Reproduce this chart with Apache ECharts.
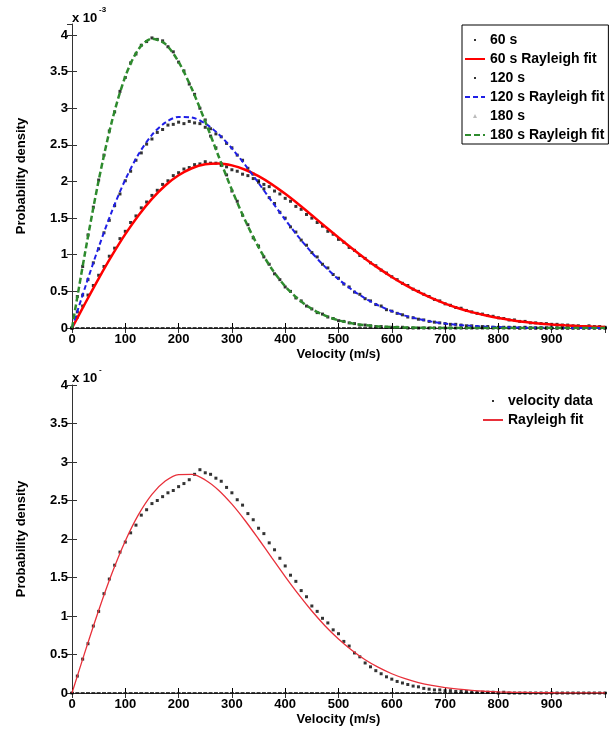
<!DOCTYPE html>
<html>
<head>
<meta charset="utf-8">
<script src="https://cdn.jsdelivr.net/npm/echarts@6/dist/echarts.min.js"></script>
<style>
html,body{margin:0;padding:0;background:#fff;}
#c{width:613px;height:731px;}
</style>
</head>
<body>
<div id="c"></div>
<script>
// Velocity grids (m/s)
const vFit = [0,25,50,75,100,125,150,175,200,225,250,275,300,325,350,375,400,425,450,475,500,525,550,575,600,625,650,675,700,725,750,775,800,825,850,875,900,925,950,975,1000];
const vData = [0,10,20,30,40,50,60,70,80,90,100,110,120,130,140,150,160,170,180,190,200,210,220,230,240,250,260,270,280,290,300,310,320,330,340,350,360,370,380,390,400,410,420,430,440,450,460,470,480,490,500,510,520,530,540,550,560,570,580,590,600,610,620,630,640,650,660,670,680,690,700,710,720,730,740,750,760,770,780,790,800,810,820,830,840,850,860,870,880,890,900,910,920,930,940,950,960,970,980,990,1000];

// Probability density values, in units of 1e-3
const fit60 = [0,0.341,0.674,0.990,1.281,1.540,1.763,1.946,2.085,2.181,2.234,2.246,2.220,2.160,2.072,1.961,1.831,1.689,1.539,1.386,1.235,1.088,0.947,0.817,0.697,0.588,0.492,0.407,0.333,0.270,0.217,0.173,0.136,0.106,0.082,0.063,0.048,0.036,0.027,0.020,0.014];
const fit120 = [0,0.563,1.102,1.596,2.025,2.374,2.636,2.804,2.882,2.874,2.791,2.646,2.452,2.225,1.979,1.727,1.478,1.243,1.027,0.834,0.666,0.523,0.404,0.307,0.230,0.169,0.123,0.087,0.061,0.042,0.029,0.019,0.013,0.008,0.005,0.003,0.002,0.001,0.001,0,0];
const fit180 = [0,1.047,2.012,2.825,3.433,3.808,3.949,3.878,3.632,3.262,2.817,2.345,1.886,1.467,1.104,0.805,0.569,0.391,0.260,0.168,0.105,0.064,0.038,0.022,0.012,0.007,0.004,0.002,0.001,0,0,0,0,0,0,0,0,0,0,0,0];
const fitB = [0,0.547,1.072,1.554,1.974,2.319,2.580,2.752,2.837,2.839,2.767,2.634,2.452,2.237,2.000,1.755,1.512,1.280,1.065,0.871,0.701,0.555,0.432,0.332,0.250,0.186,0.136,0.098,0.070,0.049,0.034,0.023,0.015,0.010,0.007,0.004,0.003,0.002,0.001,0.001,0];

const data60 = [0,0.15,0.30,0.45,0.58,0.72,0.84,0.98,1.09,1.22,
 1.32,1.44,1.53,1.64,1.72,1.81,1.88,1.96,2.01,2.08,
 2.12,2.17,2.19,2.23,2.24,2.27,2.25,2.25,2.22,2.20,
 2.16,2.14,2.10,2.08,2.04,2.01,1.96,1.93,1.87,1.83,
 1.77,1.73,1.66,1.62,1.55,1.50,1.44,1.39,1.32,1.28,
 1.21,1.17,1.10,1.06,0.99,0.95,0.89,0.85,0.79,0.75,
 0.70,0.66,0.61,0.58,0.53,0.50,0.46,0.43,0.39,0.37,
 0.33,0.31,0.28,0.27,0.24,0.22,0.20,0.19,0.17,0.16,
 0.14,0.13,0.11,0.11,0.09,0.09,0.07,0.07,0.06,0.06,
 0.05,0.05,0.04,0.04,0.03,0.03,0.02,0.03,0.02,0.02,0.01];
const data120 = [0,0.22,0.45,0.66,0.89,1.08,1.30,1.47,1.67,1.83,
 2.01,2.14,2.29,2.39,2.51,2.58,2.67,2.71,2.77,2.78,
 2.81,2.79,2.82,2.80,2.79,2.74,2.72,2.65,2.61,2.52,
 2.46,2.36,2.29,2.18,2.10,1.99,1.90,1.78,1.70,1.58,
 1.50,1.38,1.31,1.20,1.13,1.03,0.97,0.87,0.82,0.73,
 0.68,0.60,0.56,0.49,0.46,0.40,0.37,0.32,0.30,0.25,
 0.23,0.20,0.18,0.15,0.14,0.12,0.11,0.09,0.08,0.07,
 0.06,0.05,0.05,0.04,0.03,0.03,0.02,0.02,0.02,0.01,
 0.01,0.01,0.01,0.01,0,0.01,0,0,0,0,
 0,0,0,0,0,0,0,0,0,0,0];
const data180 = [0,0.43,0.84,1.27,1.65,2.02,2.36,2.69,2.95,3.23,
 3.42,3.62,3.74,3.86,3.91,3.96,3.94,3.92,3.84,3.77,
 3.63,3.51,3.33,3.19,3.00,2.84,2.62,2.46,2.24,2.09,
 1.87,1.73,1.54,1.41,1.23,1.12,0.97,0.87,0.74,0.66,
 0.56,0.50,0.41,0.37,0.30,0.26,0.21,0.19,0.15,0.13,
 0.10,0.09,0.07,0.06,0.04,0.04,0.03,0.02,0.02,0.01,
 0.01,0.01,0.01,0,0,0,0,0,0,0,
 0,0,0,0,0,0,0,0,0,0,
 0,0,0,0,0,0,0,0,0,0,
 0,0,0,0,0,0,0,0,0,0,0];
const dataB = [0,0.22,0.44,0.64,0.87,1.06,1.29,1.48,1.66,1.83,
 1.96,2.08,2.18,2.31,2.38,2.46,2.50,2.55,2.60,2.63,
 2.68,2.72,2.77,2.84,2.90,2.86,2.84,2.79,2.75,2.67,
 2.60,2.51,2.44,2.33,2.25,2.14,2.07,1.95,1.86,1.75,
 1.65,1.53,1.45,1.33,1.25,1.13,1.06,0.97,0.91,0.82,
 0.77,0.67,0.61,0.52,0.47,0.39,0.34,0.29,0.25,0.21,
 0.18,0.15,0.13,0.11,0.09,0.08,0.06,0.05,0.04,0.04,
 0.03,0.03,0.02,0.02,0.02,0.01,0.01,0.01,0.01,0.01,
 0,0.01,0,0,0,0,0,0,0,0,
 0,0,0,0,0,0,0,0,0,0,0];
// empty-bin points lying on the zero line
const zeroBins = [0,0,0,0,0,0,0,0,0,0,0,0,0,0,0,0,0,0,0,0,0,0,0,0,0,0,0,0,0,0,0,0,0,0,0,0,0,0,0,0,0,0,0,0,0,0,0,0,0,0,0,0,0,0,0,0,0,0,0,0,0,0,0,0,0,0,0,0,0,0,0,0,0,0,0,0,0,0,0,0,0,0,0,0,0,0,0,0,0,0,0,0,0,0,0,0,0,0,0,0,0];

const xTicks = ['0','100','200','300','400','500','600','700','800','900'];
const legendTop = ['60 s','60 s Rayleigh fit','120 s','120 s Rayleigh fit','180 s','180 s Rayleigh fit'];
const legendBottom = ['velocity data','Rayleigh fit'];

function pairs(xs, ys){ return xs.map((x,i)=>[x, ys[i]]); }

const FONT = 'Liberation Sans, Arial, Helvetica, sans-serif';
const dotIcon = 'path://M0 0M20 14M9 6h2v2h-2z';
const triIcon = 'path://M0 0M20 14M10 5L12 9L8 9z';
const noSym = {opacity:0};

function xAxisPair(gi){
  return [{
    gridIndex: gi, type:'value', min:0, max:1000, interval:100, position:'bottom',
    name:'Velocity (m/s)', nameLocation:'middle', nameGap:20,
    nameTextStyle:{fontFamily:FONT, fontWeight:'bold', fontSize:13, color:'#000'},
    axisLine:{lineStyle:{color:'#000', width:1}},
    axisTick:{inside:true, length:5, lineStyle:{color:'#000'}},
    axisLabel:{margin:5, fontFamily:FONT, fontWeight:'bold', fontSize:13, color:'#000', showMaxLabel:false,
      formatter:(v)=>{ const i = Math.round(v/100); return xTicks[i] !== undefined && v%100===0 ? xTicks[i] : ''; }},
    splitLine:{show:false}
  },{
    gridIndex: gi, type:'value', min:0, max:1000, interval:100, position:'top',
    axisLine:{lineStyle:{color:'#333', width:1}},
    axisTick:{inside:true, length:5, lineStyle:{color:'#333'}},
    axisLabel:{show:false}, splitLine:{show:false}
  }];
}
function yAxisPair(gi, max){
  return [{
    gridIndex: gi, type:'value', min:0, max:max, interval:0.5, position:'left',
    name:'Probability density', nameLocation:'middle', nameGap:44,
    nameTextStyle:{fontFamily:FONT, fontWeight:'bold', fontSize:13, color:'#000'},
    axisLine:{show:true, lineStyle:{color:'#e4e4e4', width:1}},
    axisTick:{show:true, inside:true, length:5, lineStyle:{color:'#333'}},
    axisLabel:{margin:4, fontFamily:FONT, fontWeight:'bold', fontSize:13, color:'#000', showMaxLabel: max===4},
    splitLine:{show:false}
  },{
    gridIndex: gi, type:'value', min:0, max:max, interval:0.5, position:'right',
    axisLine:{show:true, lineStyle:{color:'#333', width:1}},
    axisTick:{show:true, inside:true, length:5, lineStyle:{color:'#333'}},
    axisLabel:{show:false}, splitLine:{show:false}
  }];
}

const chart = echarts.init(document.getElementById('c'), null, {renderer:'canvas'});
const scatterBase = {type:'scatter', symbol:'rect', symbolSize:[3,3], itemStyle:{color:'#000'}, silent:true, z:2};
const zeroBase = {type:'scatter', symbol:'rect', symbolSize:[4,2], itemStyle:{color:'#111'}, silent:true, z:1};

chart.setOption({
  animation:false,
  backgroundColor:'#fff',
  grid:[
    {left:72, right:8, top:24, height:304},
    {left:72, right:8, top:385, height:308}
  ],
  xAxis:[...xAxisPair(0), ...xAxisPair(1)],
  yAxis:[...yAxisPair(0, 4.15), ...yAxisPair(1, 4)],
  legend:[{
    orient:'vertical', left:462, top:25, padding:[8,4,2,2], itemGap:5, itemWidth:20, itemHeight:14,
    backgroundColor:'#fff', borderColor:'#000', borderWidth:1,
    textStyle:{fontFamily:FONT, fontWeight:'bold', fontSize:14, color:'#000'},
    data:[
      {name:legendTop[0], icon:dotIcon},
      {name:legendTop[1], itemStyle:noSym},
      {name:legendTop[2], icon:dotIcon},
      {name:legendTop[3], itemStyle:noSym},
      {name:legendTop[4], icon:triIcon, itemStyle:{color:'#aaa'}},
      {name:legendTop[5], itemStyle:noSym}
    ]
  },{
    orient:'vertical', left:482, top:394, padding:0, itemGap:5, itemWidth:20, itemHeight:14,
    textStyle:{fontFamily:FONT, fontWeight:'bold', fontSize:14, color:'#000'},
    data:[{name:legendBottom[0], icon:dotIcon},{name:legendBottom[1], itemStyle:noSym}]
  }],
  graphic:[
    {type:'text', left:72, top:12, style:{text:'x 10', font:'bold 13px '+FONT, fill:'#000'}},
    {type:'text', left:99, top:6, style:{text:'-3', font:'bold 8px '+FONT, fill:'#000'}},
    {type:'text', left:72, top:372, style:{text:'x 10', font:'bold 13px '+FONT, fill:'#000'}},
    {type:'text', left:99, top:366, style:{text:'-', font:'bold 8px '+FONT, fill:'#000'}}
  ],
  series:[
    Object.assign({}, zeroBase, {name:'zero top', xAxisIndex:0, yAxisIndex:0, data:pairs(vData, zeroBins)}),
    Object.assign({}, scatterBase, {name:legendTop[0], xAxisIndex:0, yAxisIndex:0, data:pairs(vData, data60)}),
    {name:legendTop[1], type:'line', xAxisIndex:0, yAxisIndex:0, data:pairs(vFit, fit60), smooth:0.3,
      symbol:'none', showSymbol:false, lineStyle:{color:'#ff0000', width:2.5}, itemStyle:{color:'#ff0000'}, z:3},
    Object.assign({}, scatterBase, {name:legendTop[2], xAxisIndex:0, yAxisIndex:0, data:pairs(vData, data120)}),
    {name:legendTop[3], type:'line', xAxisIndex:0, yAxisIndex:0, data:pairs(vFit, fit120), smooth:0.3,
      symbol:'none', showSymbol:false, lineStyle:{color:'#1f1fe6', width:2, type:[5,3]}, itemStyle:{color:'#1f1fe6'}, z:3},
    Object.assign({}, scatterBase, {name:legendTop[4], xAxisIndex:0, yAxisIndex:0, data:pairs(vData, data180)}),
    {name:legendTop[5], type:'line', xAxisIndex:0, yAxisIndex:0, data:pairs(vFit, fit180), smooth:0.3,
      symbol:'none', showSymbol:false, lineStyle:{color:'#2e8b2e', width:2.5, type:[6,3]}, itemStyle:{color:'#2e8b2e'}, z:3},

    Object.assign({}, zeroBase, {name:'zero bottom', xAxisIndex:2, yAxisIndex:2, data:pairs(vData, zeroBins)}),
    Object.assign({}, scatterBase, {name:legendBottom[0], xAxisIndex:2, yAxisIndex:2, data:pairs(vData, dataB)}),
    {name:legendBottom[1], type:'line', xAxisIndex:2, yAxisIndex:2, data:pairs(vFit, fitB), smooth:0.3,
      symbol:'none', showSymbol:false, lineStyle:{color:'#e8303a', width:1.3}, itemStyle:{color:'#e8303a'}, z:3}
  ]
});
</script>
</body>
</html>
